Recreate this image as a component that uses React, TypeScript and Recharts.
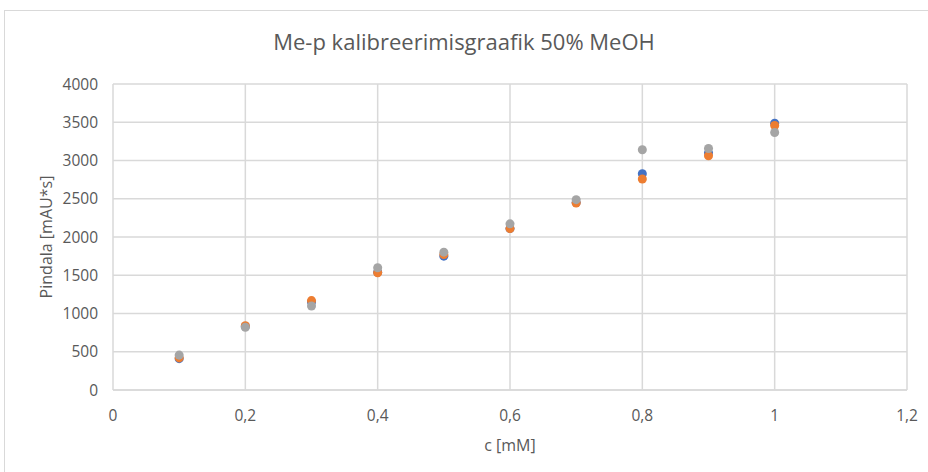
import { ScatterChart, Scatter, XAxis, YAxis, ZAxis, CartesianGrid, Label } from 'recharts'

// concentrations (mM)
const concentrations = [0.1, 0.2, 0.3, 0.4, 0.5, 0.6, 0.7, 0.8, 0.9, 1.0]

// peak areas, three parallel runs
const seriesBlue = [410, 830, 1150, 1540, 1750, 2110, 2450, 2827, 3100, 3488]
const seriesOrange = [420, 840, 1169, 1533, 1770, 2110, 2445, 2758, 3062, 3457]
const seriesGray = [456, 820, 1098, 1598, 1802, 2172, 2488, 3140, 3157, 3366]

const xTicks = [0, 0.2, 0.4, 0.6, 0.8, 1, 1.2]
const yTicks = [0, 500, 1000, 1500, 2000, 2500, 3000, 3500, 4000]

const toPoints = (values: number[]) =>
  concentrations.map((c, i) => ({ c, area: values[i] }))

const FONT = '"Open Sans", "Liberation Sans", sans-serif'
const TICK_STYLE = { fill: '#595959', fontSize: 15.5, fontFamily: FONT }
const LABEL_STYLE = { fill: '#595959', fontSize: 16, fontFamily: FONT }

export default function App() {
  return (
    <div style={{ position: 'absolute', left: 0, top: 0, width: 928, height: 472, background: '#fff' }}>
      <div
        style={{
          position: 'absolute',
          left: 4,
          top: 10,
          width: 940,
          height: 480,
          border: '1px solid #d9d9d9',
        }}
      />
      <div
        style={{
          position: 'absolute',
          left: 0,
          top: 26,
          width: 928,
          textAlign: 'center',
          fontFamily: FONT,
          fontSize: 22,
          lineHeight: '30px',
          color: '#595959',
        }}
      >
        Me-p kalibreerimisgraafik 50% MeOH
      </div>
      <div style={{ position: 'absolute', left: 0, top: 0 }}>
        <ScatterChart width={928} height={472} margin={{ top: 84, right: 21, bottom: 52, left: 30 }}>
          <CartesianGrid stroke="#d9d9d9" strokeWidth={1.5} />
          <XAxis
            type="number"
            dataKey="c"
            domain={[0, 1.2]}
            ticks={xTicks}
            interval={0}
            height={30}
            tickLine={false}
            tickSize={0}
            tickMargin={20}
            axisLine={{ stroke: '#d9d9d9', strokeWidth: 1.5 }}
            tick={TICK_STYLE}
            tickFormatter={(v: number) => String(v).replace('.', ',')}
          >
            <Label value="c [mM]" position="bottom" offset={20} style={LABEL_STYLE} />
          </XAxis>
          <YAxis
            type="number"
            dataKey="area"
            domain={[0, 4000]}
            ticks={yTicks}
            interval={0}
            width={83}
            tickLine={false}
            tickSize={0}
            tickMargin={15}
            axisLine={false}
            tick={TICK_STYLE}
          >
            <Label
              value="Pindala [mAU*s]"
              angle={-90}
              position="insideLeft"
              offset={16}
              style={{ ...LABEL_STYLE, textAnchor: 'middle' }}
            />
          </YAxis>
          <ZAxis range={[80, 80]} />
          <Scatter data={toPoints(seriesBlue)} fill="#4472C4" isAnimationActive={false} />
          <Scatter data={toPoints(seriesOrange)} fill="#ED7D31" isAnimationActive={false} />
          <Scatter data={toPoints(seriesGray)} fill="#A5A5A5" isAnimationActive={false} />
        </ScatterChart>
      </div>
    </div>
  )
}
